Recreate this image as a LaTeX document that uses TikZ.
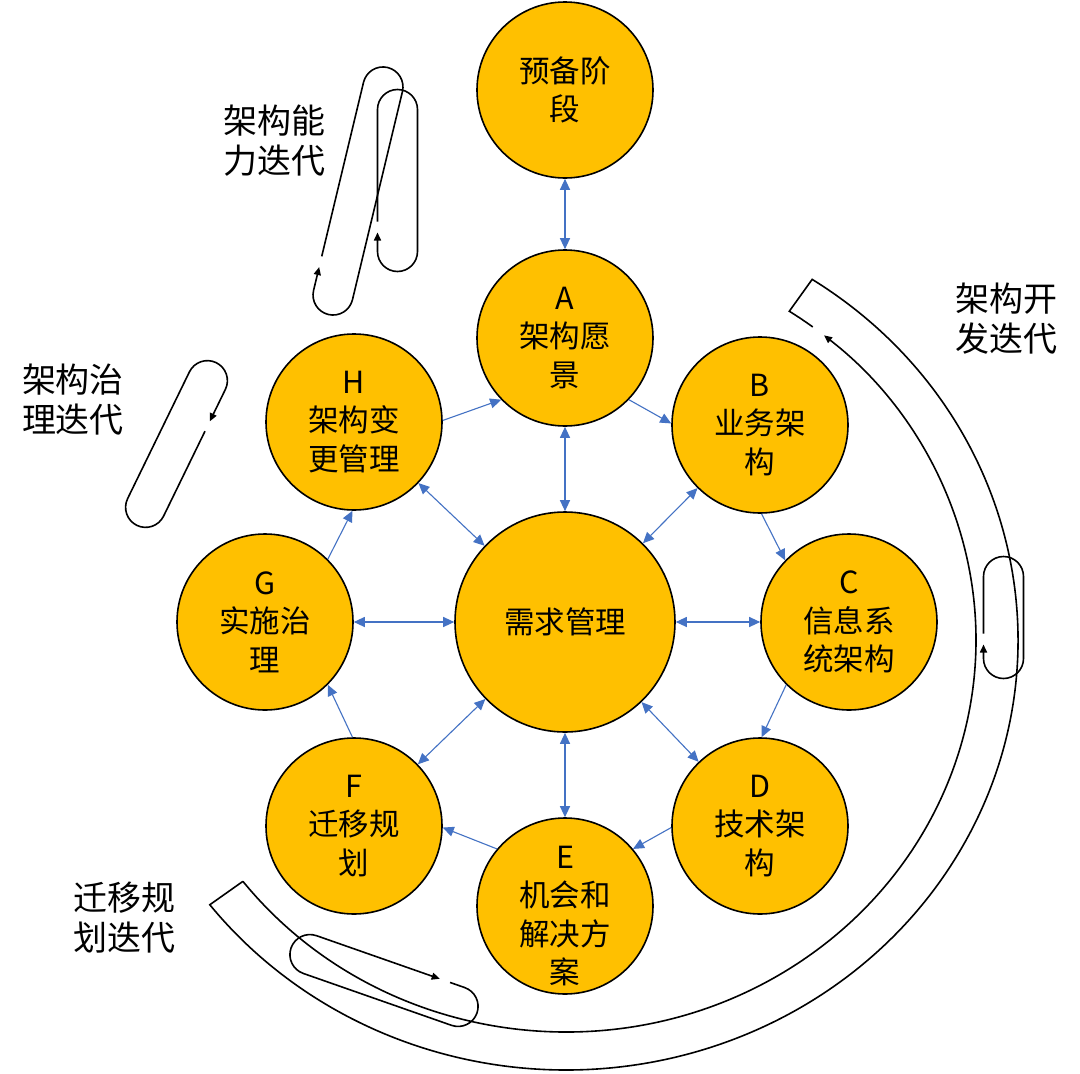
\documentclass[tikz,border=0pt]{standalone}
\usepackage{fontspec}
\usepackage{tikz}
\usetikzlibrary{arrows.meta}
\newfontfamily\cjkfont{Noto Sans CJK SC}
\definecolor{gold}{HTML}{FFC000}
\definecolor{linkblue}{HTML}{4472C4}

\begin{document}
\begin{tikzpicture}[x=1pt, y=1pt,
  stage/.style={circle, draw=black, line width=1.6pt, fill=gold, minimum size=176pt, inner sep=0pt,
    align=center, font=\cjkfont\fontsize{30.5}{38.5}\selectfont},
  flow/.style={-{Triangle[length=11pt,width=10pt]}, linkblue, line width=1.1pt},
  twoway/.style={{Triangle[length=11pt,width=10pt]}-{Triangle[length=11pt,width=10pt]}, linkblue, line width=1.1pt},
  band/.style={black, line width=1.6pt},
  iterline/.style={black, line width=1.6pt, -{Triangle[length=8pt,width=7pt]}},
  tag/.style={align=center, font=\cjkfont\fontsize{34}{40}\selectfont}]
  \path[use as bounding box, fill=white] (0,0) rectangle (1080,-1074);

  % stages of the cycle
  \node[stage] (prep) at (565,-90) {预备阶\\段};
  \node[stage] (A) at (565,-338) {A\\架构愿\\景};
  \node[stage] (B) at (760,-425) {B\\业务架\\构};
  \node[stage] (C) at (849,-622) {C\\信息系\\统架构};
  \node[stage] (D) at (760,-826) {D\\技术架\\构};
  \node[stage, label={[yshift=-10pt, align=center, font=\cjkfont\fontsize{30.5}{38.5}\selectfont]center:E\\机会和\\解决方\\案}] (E) at (565,-906) {};
  \node[stage] (F) at (354,-826) {F\\迁移规\\划};
  \node[stage] (G) at (265,-622) {G\\实施治\\理};
  \node[stage] (H) at (354,-422) {H\\架构变\\更管理};
  \node[stage, minimum size=220pt] (req) at (565,-622) {需求管理};

  \draw[twoway] (prep) -- (A);
  \foreach \n in {A,...,H}
    \draw[twoway] (\n) -- (req);
  \foreach \s/\sa/\t/\ta in {H/1/A/224, A/316/B/179, B/271/C/136, C/225/D/89,
                             D/181/E/40, E/140/F/359, F/91/G/315, G/45/H/269}
    \draw[flow] (\s.\sa) -- (\t.\ta);

  % development band around the right side
  \coordinate (o) at (566,-640);
  \coordinate (devtop) at ([shift={(57:452 and 430)}]o);
  \coordinate (devend) at ([shift={(-142:410 and 392)}]o);
  \draw[band] ([shift={(53:410 and 392)}]o) arc[start angle=53, end angle=57, x radius=410, y radius=392]
    -- (devtop) arc[start angle=57, end angle=-142, x radius=452, y radius=430] -- (devend);
  \draw[iterline] (devend) arc[start angle=-142, end angle=51, x radius=410, y radius=392];

  % small iteration loops
  \foreach \cx/\cy/\rot/\h/\tip in {358/-191/-13.5/107/-83, 397.5/-180.5/0/71/-52,
                                    176.5/-444/154/70.5/-35, 1003.5/-617.5/0/41/-27,
                                    384/-980.5/250.7/78.5/52}
    \draw[iterline, shift={(\cx,\cy)}, rotate=\rot] (-20,\tip+11) -- (-20,\h)
      arc[start angle=180, end angle=0, radius=20] -- (20,-\h)
      arc[start angle=0, end angle=-180, radius=20] -- (-20,\tip);

  \node[tag] (capit) at (274,-141) {架构能\\力迭代};
  \node[tag] (govit) at (73,-400) {架构治\\理迭代};
  \node[tag] (devit) at (1006,-319) {架构开\\发迭代};
  \node[tag] (migit) at (124,-918) {迁移规\\划迭代};
\end{tikzpicture}
\end{document}
